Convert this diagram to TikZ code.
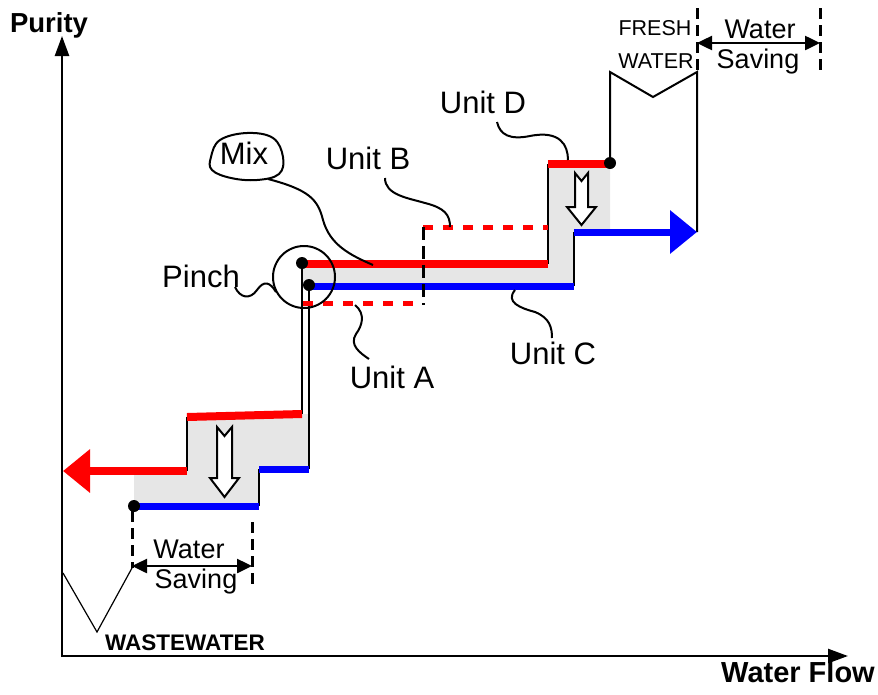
\documentclass[tikz,border=0pt]{standalone}
\usepackage{fontspec}
\setmainfont{Liberation Sans}
\usetikzlibrary{arrows.meta}
\definecolor{myred}{RGB}{255,0,0}
\definecolor{myblue}{RGB}{0,0,255}
\definecolor{mygrey}{RGB}{230,230,230}
\begin{document}
\begin{tikzpicture}[x=1pt,y=-1pt,
  lbl/.style={font=\fontsize{31}{36}\selectfont, anchor=base, inner sep=0pt},
  wsl/.style={font=\fontsize{27}{30}\selectfont, anchor=base, inner sep=0pt},
  fwl/.style={font=\fontsize{21.5}{26}\selectfont, anchor=base, inner sep=0pt},
  boldl/.style={font=\bfseries\fontsize{#1}{30}\selectfont, anchor=base, inner sep=0pt},
  axisline/.style={line width=2.5pt, -{Triangle[length=20pt,width=14pt]}},
  redline/.style={myred, line width=8pt},
  blueline/.style={myblue, line width=7pt},
  blk/.style={black, line width=2pt},
  reddash/.style={myred, line width=5pt, dash pattern=on 10pt off 10pt},
  blkdash/.style={black, line width=3pt, dash pattern=on 13pt off 6pt},
  wsdash/.style={black, line width=3pt, dash pattern=on 11pt off 6pt},
  dimarrow/.style={line width=2.5pt, {Triangle[length=15pt,width=14pt]}-{Triangle[length=15pt,width=14pt]}},
  leader/.style={black, line width=2pt},
  dotmark/.style={circle, fill=black, inner sep=0pt, minimum size=12pt},
  hollow/.style={fill=white, draw=black, line width=2pt, line join=miter}
]
\useasboundingbox (0,0) rectangle (878,694);

% axes
\coordinate (origin) at (62,656);
\coordinate (ytip) at (62,36);
\coordinate (xtip) at (848,656);
\draw[axisline] (62,657) -- (ytip);
\draw[axisline] (61,656) -- (xtip);
\node[boldl=27.5] (purity) at (49,32) {Purity};
\node[boldl=29] (wflow) at (798,682) {Water Flow};

% grey regions
\fill[mygrey] (134,474) -- (187,474) -- (187,417) -- (302,414) -- (308,414) -- (308,469) -- (259,469) -- (259,506) -- (134,506) -- cycle;
\fill[mygrey] (302,264) -- (548,264) -- (548,164) -- (610,164) -- (610,232) -- (574,232) -- (574,286) -- (302,286) -- cycle;

% coordinates of steps
\coordinate (r1a) at (187,471);
\coordinate (r1b) at (187,417);
\coordinate (r2b) at (302,414);
\coordinate (r3a) at (302,264);
\coordinate (r3b) at (548,264);
\coordinate (r4a) at (548,164);
\coordinate (r4b) at (610,164);
\coordinate (b1a) at (134,506);
\coordinate (b1b) at (259,506);
\coordinate (b2a) at (259,469);
\coordinate (b2b) at (309,469);
\coordinate (b3a) at (309,286);
\coordinate (b3b) at (574,286);
\coordinate (b4a) at (574,232);
\coordinate (wl) at (63,471);
\coordinate (fwtop) at (610,72);
\coordinate (fwmid) at (653,97);
\coordinate (fwright) at (697,72);
\coordinate (fwbot) at (697,232);

% black verticals
\draw[blk] (r1a) -- (r1b);
\draw[blk] (b1b) -- (b2a);
\draw[blk] (r3a) -- (r2b);
\draw[blk] (b3a) -- (b2b);
\draw[blk] (r3b) -- (r4a);
\draw[blk] (b3b) -- (b4a);
\draw[blk] (r4b) -- (fwtop) -- (fwmid) -- (fwright) -- (fwbot);

% red lines
\draw[redline, -{Triangle[length=27pt,width=42pt]}] (r1a) -- (wl);
\draw[redline] (r1b) -- (r2b);
\draw[redline, line width=7.5pt] (r3a) -- (r3b);
\draw[redline, line width=7.5pt] (r4a) -- (r4b);

% blue lines
\draw[blueline] (b1a) -- (b1b);
\draw[blueline] (b2a) -- (b2b);
\draw[blueline] (b3a) -- (b3b);
\draw[blueline, -{Triangle[length=27pt,width=42pt]}] (b4a) -- (fwbot);

% dashed units
\coordinate (ua1) at (303,303);
\coordinate (ua2) at (419,303);
\coordinate (dv1) at (423,227);
\coordinate (dv2) at (423,305);
\coordinate (ub1) at (423,227);
\coordinate (ub2) at (548,227);
\draw[reddash] (ua1) -- (ua2);
\draw[reddash] (ub1) -- (ub2);
\draw[blkdash] (dv1) -- (dv2);

% dots
\node[dotmark] (d1) at (134,506) {};
\node[dotmark] (d2) at (302,263) {};
\node[dotmark] (d3) at (309,285) {};
\node[dotmark] (d4) at (610,163) {};

% hollow down arrows
\draw[hollow] (217,427) -- (224.5,436) -- (232,427) -- (232,478) -- (239,478) -- (224.5,497) -- (210,478) -- (217,478) -- cycle;
\draw[hollow] (575,173) -- (581.5,181) -- (588,173) -- (588,207) -- (596,207) -- (581.5,225) -- (567,207) -- (575,207) -- cycle;

% pinch circle
\node[circle, draw, line width=2pt, minimum size=62pt, inner sep=0pt] (pinchc) at (304,277) {};

% labels
\node[lbl] (unitb) at (368,169) {Unit B};
\node[lbl] (unitd) at (483,113) {Unit D};
\node[lbl] (unita) at (392,388) {Unit A};
\node[lbl] (unitc) at (553,364) {Unit C};
\node[lbl] (mix) at (244,164) {Mix};
\node[lbl] (pinch) at (201,287) {Pinch};

% mix cloud
\draw[leader] plot[smooth cycle, tension=0.65] coordinates {(211,157) (220,140) (247,133) (273,138) (283,157) (279,174) (257,180) (231,178) (212,170)};

% leaders
\draw[leader] (268,179) .. controls (310,190) and (318,200) .. (323,220) .. controls (330,245) and (350,255) .. (373,265);
\draw[leader] (385,178) .. controls (385,195) and (408,198) .. (425,203) .. controls (445,208) and (450,215) .. (450,227);
\draw[leader] (355,305) .. controls (366,314) and (362,326) .. (356,334) .. controls (349,345) and (360,353) .. (369,359);
\draw[leader] (515,290) .. controls (505,302) and (520,308) .. (535,312) .. controls (550,318) and (552,328) .. (552,338);
\draw[leader] (497,122) .. controls (500,135) and (510,140) .. (530,136) .. controls (560,130) and (568,145) .. (568,160);
\draw[leader] (235,287) .. controls (240,298) and (250,300) .. (257,290) .. controls (264,280) and (270,282) .. (276,292);

% fresh water
\node[fwl] (fresh) at (655,35) {FRESH};
\node[fwl] (water) at (656,68) {WATER};

% water saving top
\coordinate (wt1a) at (697,8);
\coordinate (wt1b) at (697,70);
\coordinate (wt2a) at (820,8);
\coordinate (wt2b) at (820,70);
\coordinate (wta) at (697,43);
\coordinate (wtb) at (820,43);
\draw[wsdash] (wt1a) -- (wt1b);
\draw[wsdash] (wt2a) -- (wt2b);
\draw[dimarrow] (wta) -- (wtb);
\node[wsl] (wst1) at (760,38) {Water};
\node[wsl] (wst2) at (758,68) {Saving};

% water saving bottom
\coordinate (wb1a) at (132,511);
\coordinate (wb1b) at (132,568);
\coordinate (wb2a) at (252,522);
\coordinate (wb2b) at (252,588);
\coordinate (wba) at (132,566);
\coordinate (wbb) at (252,566);
\draw[wsdash] (wb1a) -- (wb1b);
\draw[wsdash] (wb2a) -- (wb2b);
\draw[dimarrow] (wba) -- (wbb);
\node[wsl] (wsb1) at (189,558) {Water};
\node[wsl] (wsb2) at (196,588) {Saving};

% wastewater
\coordinate (wv1) at (63,573);
\coordinate (wv2) at (97,632);
\coordinate (wv3) at (132,568);
\draw[black, line width=1.2pt] (wv1) -- (wv2) -- (wv3);
\node[boldl=22.5] (waste) at (185,650) {WASTEWATER};
\end{tikzpicture}
\end{document}
